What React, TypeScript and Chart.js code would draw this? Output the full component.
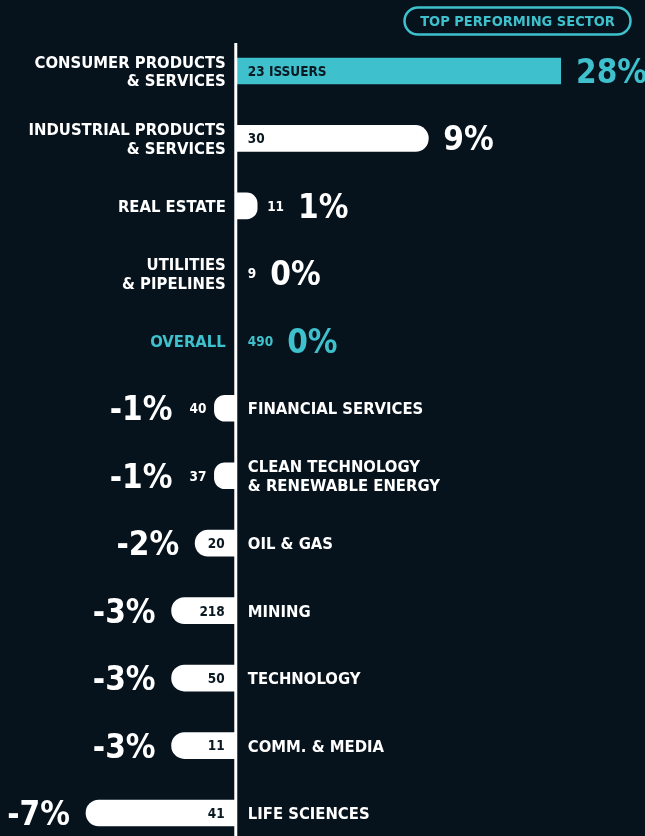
import React, { useEffect, useRef } from "react";
import { Chart, registerables } from "chart.js";

Chart.register(...registerables);

// ---- data ----
const sectorLines: string[][] = [
  ["CONSUMER PRODUCTS", "& SERVICES"],
  ["INDUSTRIAL PRODUCTS", "& SERVICES"],
  ["REAL ESTATE"],
  ["UTILITIES", "& PIPELINES"],
  ["OVERALL"],
  ["FINANCIAL SERVICES"],
  ["CLEAN TECHNOLOGY", "& RENEWABLE ENERGY"],
  ["OIL & GAS"],
  ["MINING"],
  ["TECHNOLOGY"],
  ["COMM. & MEDIA"],
  ["LIFE SCIENCES"],
];
const returns: number[] = [28, 9, 1, 0, 0, -1, -1, -1.9, -3, -3, -3, -7];
const percentLabels: string[] = ["28%", "9%", "1%", "0%", "0%", "-1%", "-1%", "-2%", "-3%", "-3%", "-3%", "-7%"];
const issuers: number[] = [23, 30, 11, 9, 490, 40, 37, 20, 218, 50, 11, 41];
const topIndex = 0;
const overallIndex = 4;
const badgeText = "TOP PERFORMING SECTOR";
const axisMin = -7;
const axisMax = 15.2;

// ---- styles ----
const BG = "#06121c";
const TEAL = "#3ec1cc";
const WHITE = "#ffffff";
const DARK = "#0a1822";
const FONT = "'DejaVu Sans Condensed', 'Liberation Sans Narrow', 'DejaVu Sans', sans-serif";

const bgPlugin = {
  id: "bg",
  beforeDraw(chart: any) {
    const { ctx } = chart;
    ctx.save();
    ctx.fillStyle = BG;
    ctx.fillRect(0, 0, chart.width, chart.height);
    // badge
    ctx.strokeStyle = TEAL;
    ctx.lineWidth = 2.5;
    ctx.beginPath();
    (ctx as any).roundRect(404.5, 7.5, 226, 27, 13.5);
    ctx.stroke();
    ctx.fillStyle = TEAL;
    ctx.font = `bold 14.5px ${FONT}`;
    ctx.textAlign = "center";
    ctx.textBaseline = "alphabetic";
    ctx.fillText(badgeText, 517.5, 21 + 0.365 * 14.5);
    ctx.restore();
  },
};

const labelPlugin = {
  id: "labels",
  afterDatasetsDraw(chart: any) {
    const { ctx, chartArea } = chart;
    const x = chart.scales.x;
    const meta = chart.getDatasetMeta(0);
    const zero = x.getPixelForValue(0);
    ctx.save();
    // zero line
    ctx.strokeStyle = WHITE;
    ctx.lineWidth = 3;
    ctx.beginPath();
    ctx.moveTo(zero, chartArea.top - 28);
    ctx.lineTo(zero, chart.height);
    ctx.stroke();

    ctx.textBaseline = "alphabetic";
    meta.data.forEach((bar: any, i: number) => {
      const v = returns[i];
      const yc = bar.y;
      const end = Math.max(chartArea.left, Math.min(chartArea.right, bar.x));
      const len = Math.abs(end - zero);
      const pos = v >= 0;
      const hl = i === topIndex || i === overallIndex;

      // category label
      const lsize = 16.5;
      ctx.font = `bold ${lsize}px ${FONT}`;
      ctx.fillStyle = i === overallIndex ? TEAL : WHITE;
      ctx.textAlign = pos ? "right" : "left";
      const lines = sectorLines[i];
      const lh = 18.5;
      lines.forEach((ln, k) => {
        const cy = yc + (k - (lines.length - 1) / 2) * lh;
        ctx.fillText(ln, pos ? zero - 10 : zero + 12, cy + 0.365 * lsize);
      });

      // issuer count
      const csize = 13.5;
      ctx.font = `bold ${csize}px ${FONT}`;
      const ct = i === topIndex ? `${issuers[i]} ISSUERS` : String(issuers[i]);
      const cw = ctx.measureText(ct).width;
      const inside = len >= cw + 20;
      ctx.fillStyle = inside ? DARK : i === overallIndex ? TEAL : WHITE;
      const cby = yc + 0.365 * csize;
      let pctX: number;
      if (pos) {
        const cx = inside ? zero + 12 : Math.max(zero + 12, end + 10);
        ctx.textAlign = "left";
        ctx.fillText(ct, cx, cby);
        pctX = inside ? end + 15 : cx + cw + 14;
      } else {
        const cx = inside ? zero - 11 : end - 8;
        ctx.textAlign = "right";
        ctx.fillText(ct, cx, cby);
        pctX = inside ? end - 16 : cx - cw - 17;
      }

      // percent
      const psize = 33;
      ctx.font = `bold ${psize}px ${FONT}`;
      ctx.fillStyle = hl ? TEAL : WHITE;
      ctx.textAlign = pos ? "left" : "right";
      ctx.fillText(percentLabels[i], pctX, yc + 0.365 * psize);
    });
    ctx.restore();
  },
};

export default function App() {
  const ref = useRef<HTMLCanvasElement | null>(null);
  useEffect(() => {
    document.body.style.margin = "0";
    document.body.style.background = BG;
    const canvas = ref.current!;
    const chart = new Chart(canvas, {
      type: "bar",
      data: {
        labels: sectorLines as any,
        datasets: [
          {
            data: returns,
            backgroundColor: returns.map((_, i) => (i === topIndex ? TEAL : WHITE)),
            borderRadius: 13,
            borderSkipped: "start",
            barThickness: 26,
            clip: { left: false, top: false, bottom: false, right: 0 } as any,
          },
        ],
      },
      options: {
        indexAxis: "y",
        responsive: false,
        animation: false,
        devicePixelRatio: 1,
        layout: { padding: { left: 86, right: 84, top: 71, bottom: 23 } },
        plugins: { legend: { display: false }, tooltip: { enabled: false } },
        scales: {
          x: { type: "linear", min: axisMin, max: axisMax, display: false },
          y: { type: "category", display: false, offset: false },
        },
      },
      plugins: [bgPlugin, labelPlugin],
    });
    return () => chart.destroy();
  }, []);
  return (
    <div style={{ width: 645, height: 836, background: BG }}>
      <canvas ref={ref} width={645} height={836} style={{ display: "block" }} />
    </div>
  );
}
